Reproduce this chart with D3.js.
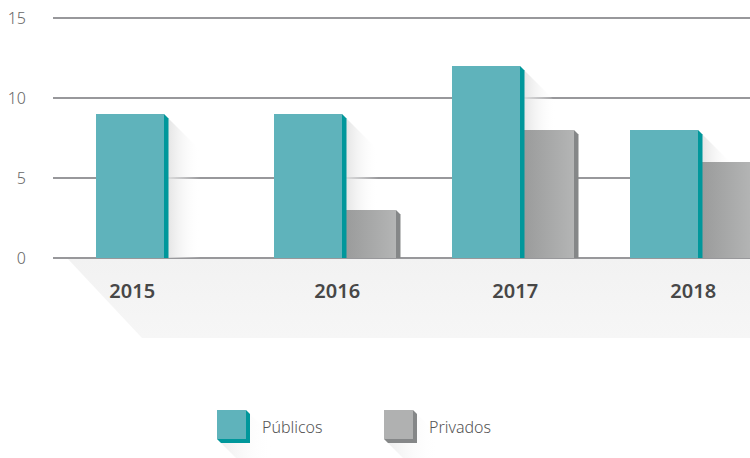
<!DOCTYPE html>
<html>
<head>
<meta charset="utf-8">
<title>Públicos y Privados</title>
<script src="https://d3js.org/d3.v7.min.js"></script>
<style>
  body { margin: 0; background: #fff; }
  text { font-family: "Noto Sans", sans-serif; }
</style>
</head>
<body>
<div id="chart"></div>
<script>
// data
var years = ["2015", "2016", "2017", "2018"];
var series = ["Públicos", "Privados"];
var publicos = [9, 9, 12, 8];
var privados = [0, 3, 8, 6];
var yTicks = [0, 5, 10, 15];

var width = 750, height = 458;
var svg = d3.select("#chart").append("svg")
    .attr("width", width).attr("height", height);

var defs = svg.append("defs");
var g1 = defs.append("linearGradient").attr("id", "grayBar");
g1.append("stop").attr("offset", "28%").attr("stop-color", "#9b9c9c");
g1.append("stop").attr("offset", "100%").attr("stop-color", "#b4b5b5");
var g2 = defs.append("linearGradient").attr("id", "shadow");
g2.append("stop").attr("offset", "0%").attr("stop-color", "#dedede");
g2.append("stop").attr("offset", "100%").attr("stop-color", "#ffffff").attr("stop-opacity", 0);
var g3 = defs.append("linearGradient").attr("id", "floor")
    .attr("x1", 0).attr("y1", 0).attr("x2", 0).attr("y2", 1);
g3.append("stop").attr("offset", "0%").attr("stop-color", "#f2f2f2");
g3.append("stop").attr("offset", "100%").attr("stop-color", "#f6f6f6");

// scales
var y = d3.scaleLinear().domain([0, 15]).range([258, 18]);
var x = d3.scaleBand().domain(years).range([96, 96 + 178 * 4]);
var xSub = d3.scaleOrdinal().domain(series).range([0, 54]);
var barW = 68, edge = 4.5, shadowL = 32;
var color = { "Públicos": "#5fb3bb", "Privados": "url(#grayBar)" };
var edgeColor = { "Públicos": "#00979b", "Privados": "#858788" };

// floor shadow under the axis
svg.append("path")
    .attr("d", "M67," + y(0) + "L" + width + "," + y(0) + "L" + width + ",338L142,338Z")
    .attr("fill", "url(#floor)");

// grid lines
svg.selectAll(".grid").data(yTicks).enter().append("line")
    .attr("x1", 53).attr("x2", width)
    .attr("y1", function(d) { return y(d); })
    .attr("y2", function(d) { return y(d); })
    .attr("stroke", "#98989b").attr("stroke-width", 2);

svg.selectAll(".tick").data(yTicks).enter().append("text")
    .attr("x", 26).attr("y", function(d) { return y(d) + 6; })
    .attr("text-anchor", "end")
    .attr("font-size", 16).attr("font-weight", 300)
    .attr("fill", "#666")
    .text(function(d) { return d; });

// flatten bars: gray ones first so the teal ones sit in front
var bars = [];
years.forEach(function(yr, i) {
  bars.push({ year: yr, s: "Privados", v: privados[i] });
});
years.forEach(function(yr, i) {
  bars.push({ year: yr, s: "Públicos", v: publicos[i] });
});
bars = bars.filter(function(d) { return d.v > 0; });

// teal bars cast a shadow, drawn behind everything
bars.filter(function(d) { return d.s == "Públicos"; }).forEach(function(d) {
  var xr = x(d.year) + xSub(d.s) + barW, top = y(d.v), base = y(0);
  svg.append("path")
    .attr("d", "M" + xr + "," + top + "L" + (xr + edge + shadowL) + "," + (top + edge + shadowL) +
      "L" + (xr + edge + shadowL) + "," + base + "L" + xr + "," + base + "Z")
    .attr("fill", "url(#shadow)");
});

bars.forEach(function(d) {
  var x0 = x(d.year) + xSub(d.s), top = y(d.v), base = y(0);
  var xr = x0 + barW;
  svg.append("rect")
    .attr("x", x0).attr("y", top)
    .attr("width", barW).attr("height", base - top)
    .attr("fill", color[d.s]);
  svg.append("path")
    .attr("d", "M" + xr + "," + top + "L" + (xr + edge) + "," + (top + edge) +
      "L" + (xr + edge) + "," + base + "L" + xr + "," + base + "Z")
    .attr("fill", edgeColor[d.s]);
});

// year labels centred on the bars that exist
years.forEach(function(yr, i) {
  var left = x(yr);
  var right = privados[i] > 0 ? x(yr) + xSub("Privados") + barW + edge : x(yr) + barW + edge;
  svg.append("text")
    .attr("x", (left + right) / 2).attr("y", 298)
    .attr("text-anchor", "middle")
    .attr("font-size", 20).attr("font-weight", 600)
    .attr("fill", "#474747")
    .text(yr);
});

// legend
var legX = [217, 384], legY = 410, sq = 29, ex = 4;
series.forEach(function(s, i) {
  var lx = legX[i];
  svg.append("path")
    .attr("d", "M" + (lx + sq) + "," + legY + "L" + (lx + sq + ex + 22) + "," + (legY + ex + 22) +
      "L" + (lx + sq + ex + 22) + "," + (legY + sq + ex + 22) + "L" + (lx + ex + 22) + "," + (legY + sq + ex + 22) +
      "L" + lx + "," + (legY + sq) + "Z")
    .attr("fill", "url(#shadow)").attr("opacity", 0.6);
  svg.append("path")
    .attr("d", "M" + (lx + sq) + "," + legY + "L" + (lx + sq + ex) + "," + (legY + ex) +
      "L" + (lx + sq + ex) + "," + (legY + sq + ex) + "L" + (lx + ex) + "," + (legY + sq + ex) +
      "L" + lx + "," + (legY + sq) + "Z")
    .attr("fill", edgeColor[s]);
  svg.append("rect")
    .attr("x", lx).attr("y", legY).attr("width", sq).attr("height", sq)
    .attr("fill", i == 0 ? "#5fb3bb" : "#b0b1b1");
  svg.append("text")
    .attr("x", lx + sq + 16).attr("y", legY + 23)
    .attr("font-size", 16).attr("font-weight", 300)
    .attr("fill", "#555")
    .text(s);
});
</script>
</body>
</html>
